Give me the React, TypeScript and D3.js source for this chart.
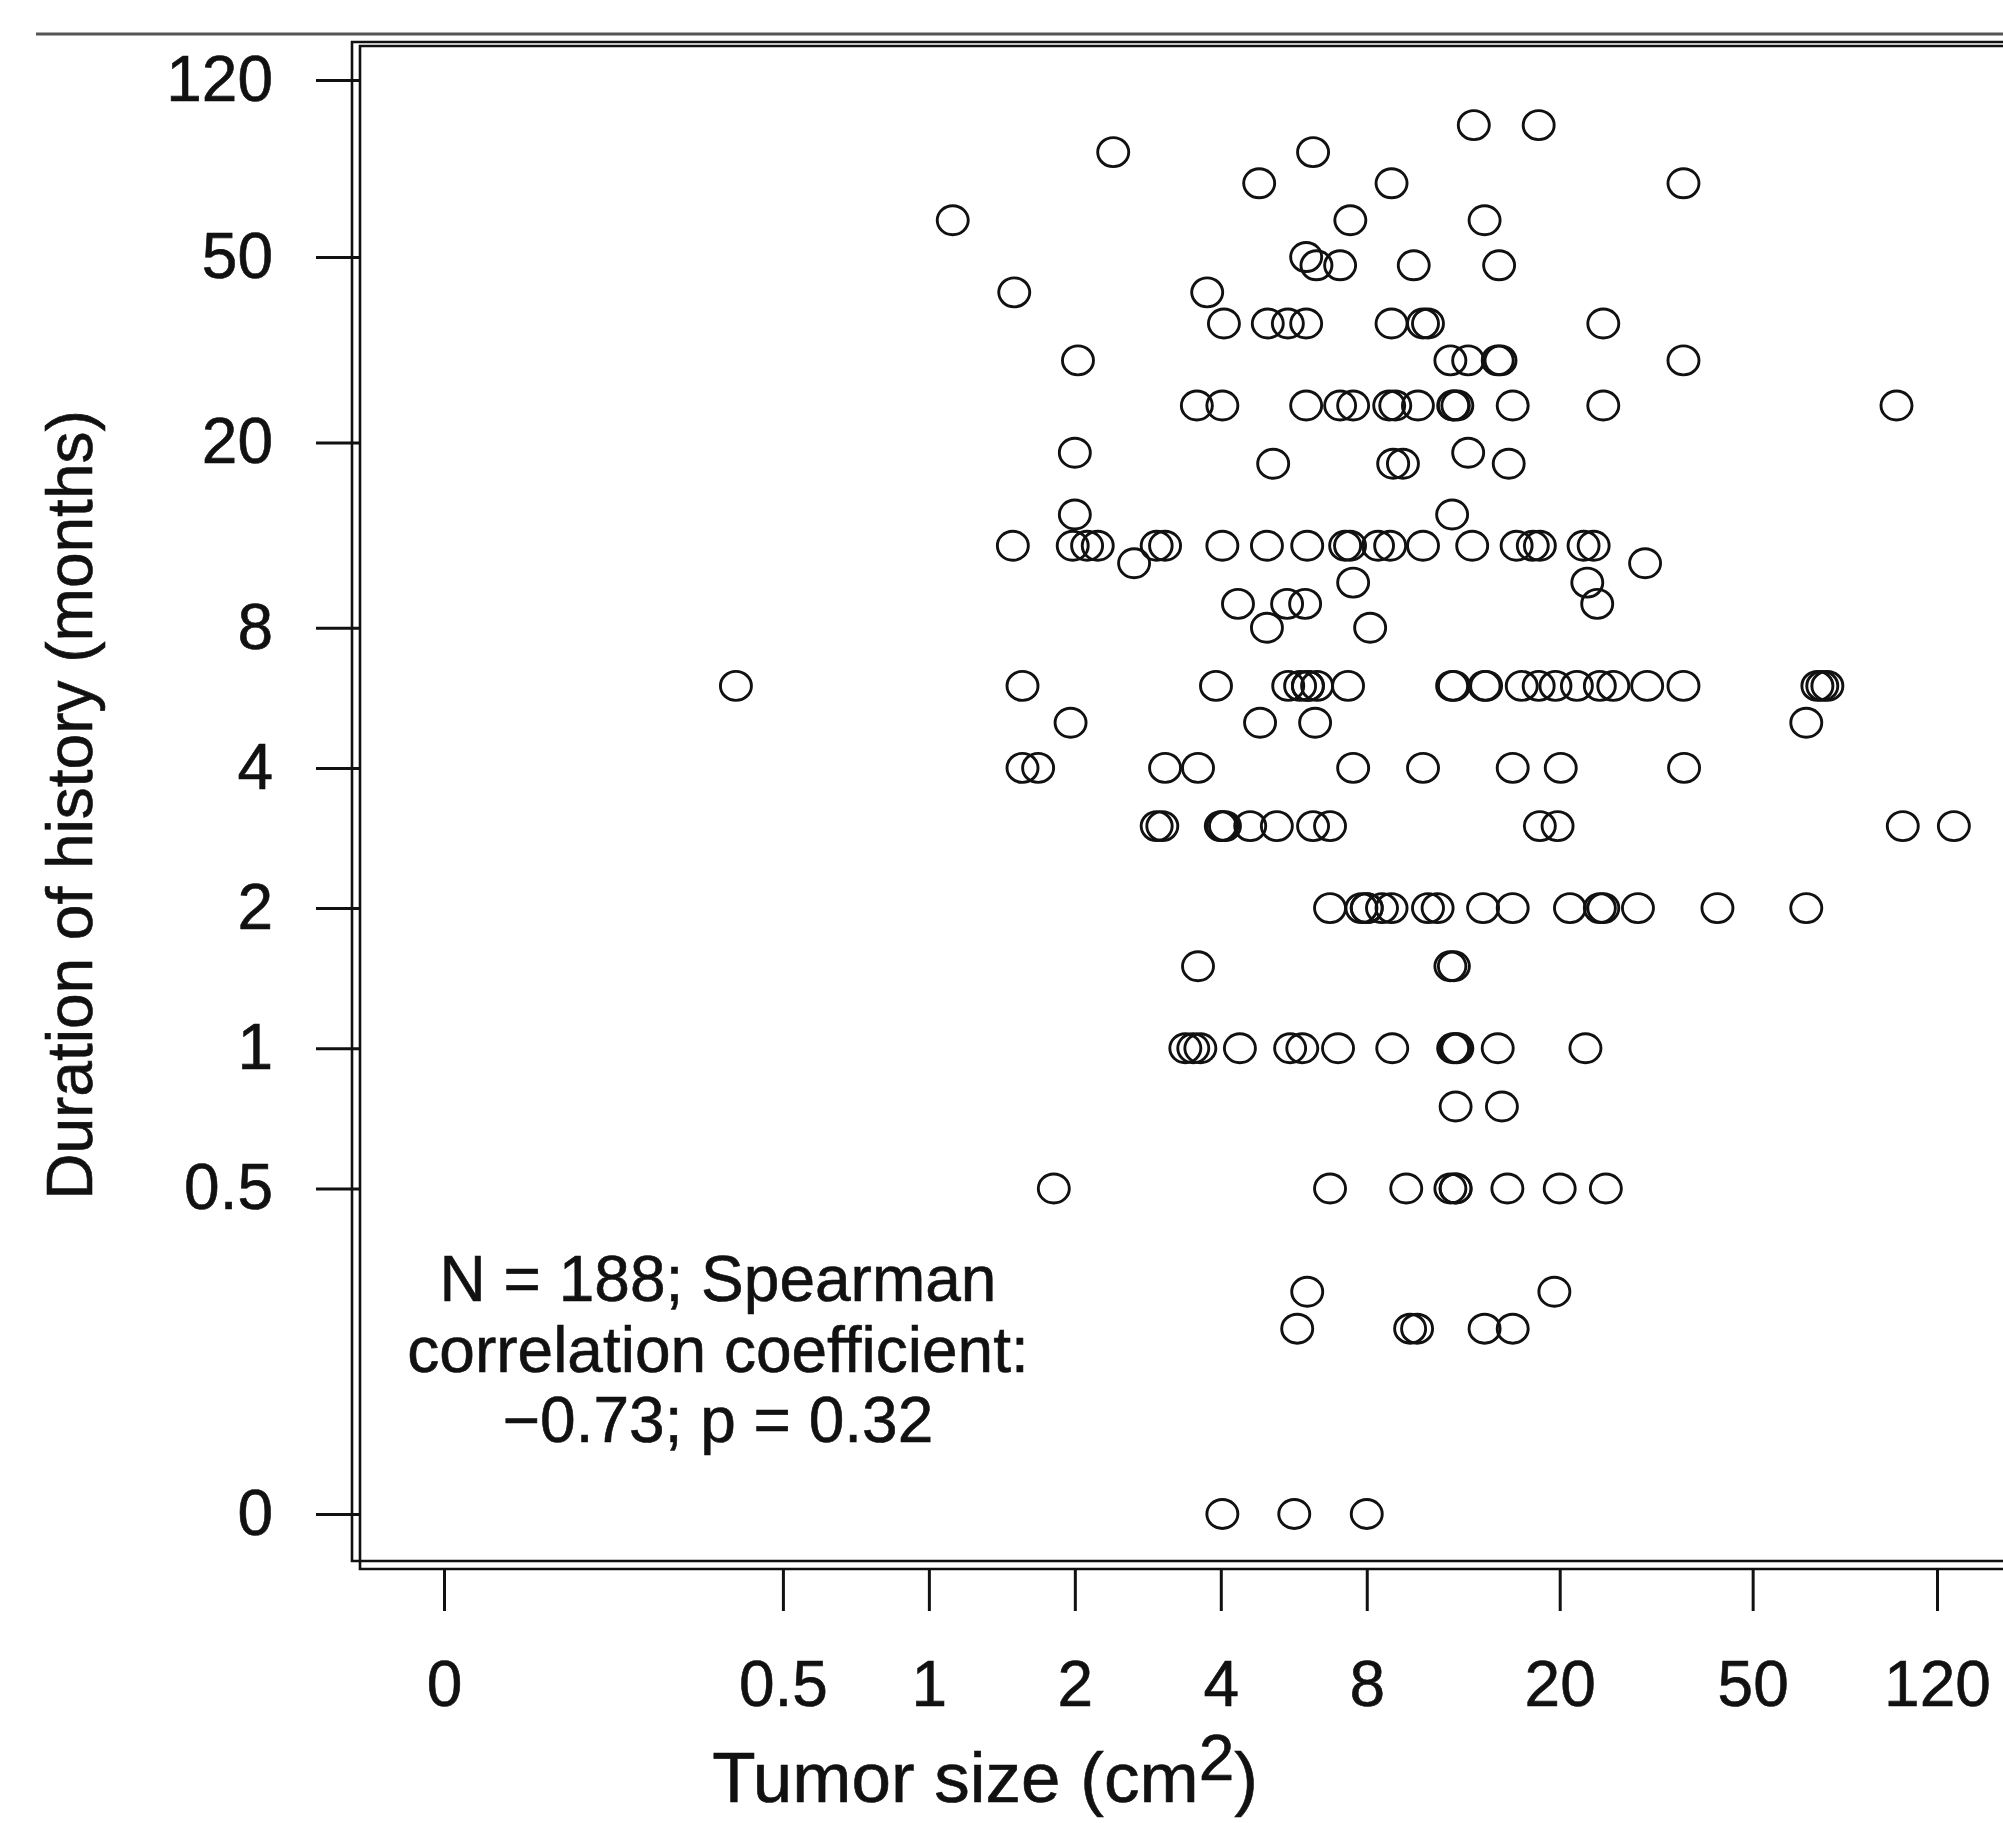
import { useEffect, useRef } from "react";
import * as d3 from "d3";

// Tumor size vs duration of history — log-log scatter, zero drawn at the far left/bottom.

const WIDTH = 2003;
const HEIGHT = 1823;
const FONT = "'Liberation Sans', Arial, Helvetica, sans-serif";
const INK = "#111";

const X_TICKS = [0, 0.5, 1, 2, 4, 8, 20, 50, 120];
const Y_TICKS = [0, 0.5, 1, 2, 4, 8, 20, 50, 120];
const ZERO_AT = 0.1; // where "0" sits on the log axes

// one entry per duration row; sizes in cm2 for the patients on that row
const DURATION_MONTHS = [
  96, 84, 72, 60, 50, 48, 42, 36, 30, 24, 19, 18, 14, 12, 11, 10, 9, 8, 6, 5, 4, 3, 2, 1.5, 1,
  0.75, 0.5, 0.3, 0.25, 0,
];
const TUMOR_SIZE_CM2 = [
  [13.3, 18.1],
  [2.4, 6.2],
  [4.8, 9.0, 36],
  [1.12, 7.4, 14],
  [6.0],
  [6.3, 7.05, 10, 15],
  [1.5, 3.75],
  [4.06, 5.0, 5.5, 6.0, 9.0, 10.45, 10.7, 24.6],
  [2.03, 11.9, 12.95, 14.9, 15.1, 36],
  [3.57, 4.03, 6.0, 7.05, 7.5, 8.9, 9.16, 10.2, 12.06, 12.1, 12.3, 16, 24.6, 99],
  [2.0, 12.95],
  [5.13, 9.07, 9.5, 15.7],
  [2.0, 12.0],
  [1.49, 1.98, 2.12, 2.23, 2.95, 3.07, 4.03, 4.98, 6.03, 7.22, 7.39, 8.44, 8.94, 10.45, 13.2,
    16.3, 17.6, 18.2, 22.4, 23.5],
  [2.65, 30],
  [7.5, 22.8],
  [4.34, 5.48, 5.97, 23.9],
  [4.98, 8.13],
  [0.4, 1.56, 3.91, 5.51, 5.83, 6.05, 6.05, 6.32, 7.32, 12.0, 12.1, 14.0, 14.1, 16.7, 18.1,
    19.6, 21.7, 24.2, 25.8, 30.3, 36.0, 68, 69.6, 71.3],
  [1.96, 4.82, 6.26, 64.5],
  [1.56, 1.68, 3.07, 3.59, 7.5, 10.45, 16.0, 20.1, 36.1],
  [2.95, 3.03, 4.0, 4.03, 4.08, 4.6, 5.22, 6.2, 6.72, 18.2, 19.8, 102, 130],
  [6.72, 7.8, 8.0, 8.0, 8.6, 9.0, 10.7, 11.2, 13.9, 16.0, 21.0, 24.2, 24.6, 29.0, 42.3, 64.5],
  [3.59, 11.9, 12.1],
  [3.38, 3.51, 3.63, 4.38, 5.56, 5.89, 6.98, 9.03, 12.06, 12.2, 12.3, 14.9, 22.6],
  [12.2, 15.2],
  [1.81, 6.72, 9.65, 11.9, 12.2, 12.2, 15.6, 20.0, 24.9],
  [6.03, 19.5],
  [5.75, 9.83, 10.16, 14.0, 16.0],
  [4.03, 5.67, 8.0],
];

const NOTE_LINES = ["N = 188; Spearman", "correlation coefficient:", "\u22120.73; p = 0.32"];
const X_TITLE = "Tumor size (cm";
const Y_TITLE = "Duration of history (months)";

export default function App() {
  const svgRef = useRef<SVGSVGElement>(null);

  useEffect(() => {
    if (!svgRef.current) return;
    const svg = d3.select(svgRef.current);
    svg.selectAll("*").remove();

    const x = d3.scaleLog().domain([ZERO_AT, 120]).range([444, 1937]);
    const y = d3.scaleLog().domain([ZERO_AT, 120]).range([1514, 80]);
    const zero = (v: number) => (v === 0 ? ZERO_AT : v);
    const fmt = (d: number) => (d === ZERO_AT ? "0" : d3.format("~g")(d));

    const points = DURATION_MONTHS.flatMap((m, i) =>
      TUMOR_SIZE_CM2[i].map((s) => ({ size: s, months: m }))
    );

    // page rule above the figure
    svg.append("line")
      .attr("x1", 36).attr("x2", WIDTH)
      .attr("y1", 34).attr("y2", 34)
      .attr("stroke", "#555")
      .attr("stroke-width", 3);

    // double frame, open to the right (cropped)
    const frame = [
      [352, 42, 1561],
      [360, 46, 1569],
    ];
    svg.selectAll("path.frame")
      .data(frame)
      .join("path")
      .attr("class", "frame")
      .attr("d", ([l, t, b]) => `M${WIDTH + 10},${t}H${l}V${b}H${WIDTH + 10}`)
      .attr("fill", "none")
      .attr("stroke", INK)
      .attr("stroke-width", 2.6);

    const yAxis = svg.append("g")
      .attr("transform", "translate(359,0)")
      .call(
        d3.axisLeft(y)
          .tickValues(Y_TICKS.map(zero))
          .tickFormat(fmt as any)
          .tickSize(43)
          .tickPadding(43)
      );
    const xAxis = svg.append("g")
      .attr("transform", "translate(0,1570)")
      .call(
        d3.axisBottom(x)
          .tickValues(X_TICKS.map(zero))
          .tickFormat(fmt as any)
          .tickSize(41)
          .tickPadding(50)
      );
    [yAxis, xAxis].forEach((g) => {
      g.attr("font-size", 64).attr("font-family", FONT);
      g.select(".domain").remove();
      g.selectAll(".tick line").attr("stroke", INK).attr("stroke-width", 3);
      g.selectAll(".tick text")
        .attr("fill", INK)
        .attr("stroke", INK)
        .attr("stroke-width", 0.6);
    });

    svg.append("g")
      .selectAll("ellipse")
      .data(points)
      .join("ellipse")
      .attr("cx", (d) => x(zero(d.size)))
      .attr("cy", (d) => y(zero(d.months)))
      .attr("rx", 15.5)
      .attr("ry", 14.5)
      .attr("fill", "none")
      .attr("stroke", INK)
      .attr("stroke-width", 2.9);

    svg.append("text")
      .attr("x", 718)
      .attr("y", 1301)
      .attr("text-anchor", "middle")
      .attr("font-family", FONT)
      .attr("font-size", 64)
      .attr("fill", INK)
      .attr("stroke", INK)
      .attr("stroke-width", 0.6)
      .selectAll("tspan")
      .data(NOTE_LINES)
      .join("tspan")
      .attr("x", 718)
      .attr("dy", (_, i) => (i === 0 ? 0 : 70.5))
      .text((d) => d);

    const xt = svg.append("text")
      .attr("x", 985)
      .attr("y", 1802)
      .attr("text-anchor", "middle")
      .attr("font-family", FONT)
      .attr("font-size", 71)
      .attr("fill", INK)
      .attr("stroke", INK)
      .attr("stroke-width", 0.6);
    xt.append("tspan").text(X_TITLE);
    xt.append("tspan").attr("dy", -22).attr("font-size", 64).text("2");
    xt.append("tspan").attr("dy", 22).text(")");

    svg.append("text")
      .attr("transform", "translate(92,805) rotate(-90)")
      .attr("text-anchor", "middle")
      .attr("font-family", FONT)
      .attr("font-size", 64)
      .attr("fill", INK)
      .attr("stroke", INK)
      .attr("stroke-width", 0.6)
      .text(Y_TITLE);
  }, []);

  return (
    <svg
      ref={svgRef}
      width={WIDTH}
      height={HEIGHT}
      style={{ position: "absolute", left: 0, top: 0, background: "#fff", display: "block" }}
    />
  );
}
